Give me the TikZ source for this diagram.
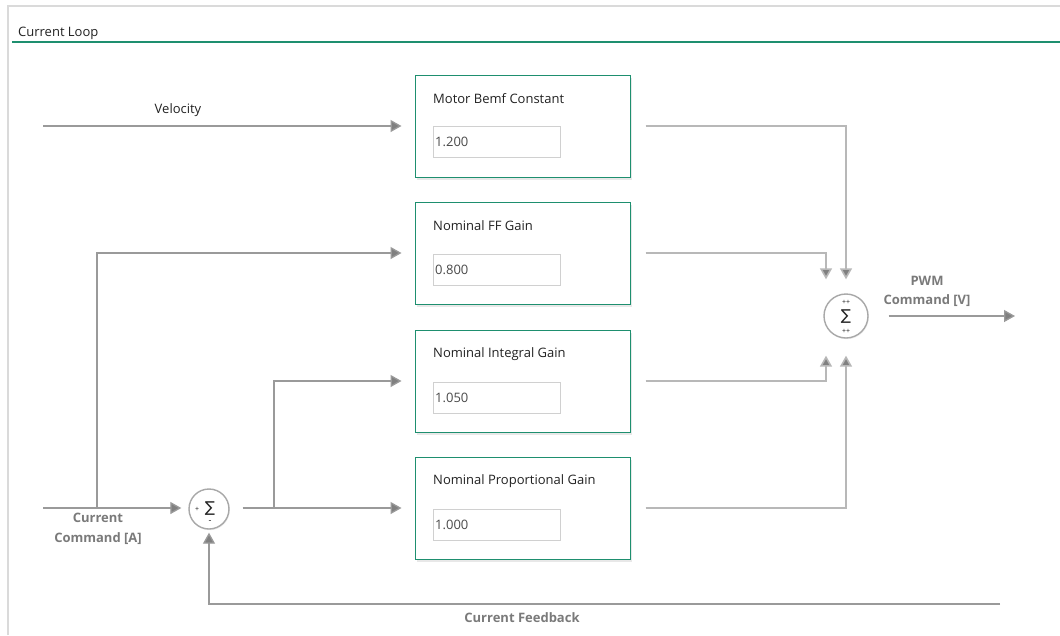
\documentclass[tikz,border=0pt]{standalone}
\usepackage{fontspec}
\setmainfont{Open Sans}
\newfontfamily\symfont{DejaVu Sans}
\usetikzlibrary{arrows.meta,shadows}
\definecolor{grn}{HTML}{1E8F6F}
\definecolor{panelgray}{HTML}{DADADA}
\definecolor{linegray}{HTML}{9A9A9A}
\definecolor{outgray}{HTML}{B8B8B8}
\definecolor{circgray}{HTML}{A8A8A8}
\definecolor{tipgray}{HTML}{808080}
\definecolor{labgray}{HTML}{7A7A7A}
\definecolor{fieldgray}{HTML}{D0D0D0}
\definecolor{txt}{HTML}{222222}
\definecolor{valtxt}{HTML}{4A4A4A}
\tikzset{
  blk/.style={draw=grn, line width=1pt, fill=white, minimum width=215pt, minimum height=102pt, inner sep=0pt,
    drop shadow={opacity=0.18, shadow xshift=1.5pt, shadow yshift=-2.5pt}},
  ttl/.style={anchor=west, inner sep=0pt, text=txt, font=\fontsize{13}{15}\selectfont},
  fld/.style={draw=fieldgray, line width=0.8pt, minimum width=127pt, minimum height=31pt, inner sep=0pt, anchor=north west},
  val/.style={anchor=west, inner sep=0pt, text=valtxt, font=\fontsize{13}{15}\selectfont},
  inl/.style={draw=linegray, line width=1.3pt, -{Triangle[width=12pt,length=11pt,fill=tipgray]}},
  outl/.style={draw=outgray, line width=1.6pt, -{Triangle[width=12pt,length=11pt,fill=tipgray]}},
  plain/.style={draw=linegray, line width=1.3pt},
  sumc/.style={circle, draw=circgray, line width=1.4pt, fill=white, inner sep=0pt,
    drop shadow={opacity=0.12, shadow xshift=0.8pt, shadow yshift=-1.2pt}},
  sig/.style={inner sep=0pt, text=txt, font=\symfont\fontsize{15}{15}\selectfont},
  sgn/.style={inner sep=0pt, text=txt, font=\fontsize{7}{7}\selectfont},
  blab/.style={text=labgray, font=\bfseries\fontsize{13}{19.5}\selectfont, align=center, inner sep=0pt},
  nlab/.style={text=txt, font=\fontsize{13}{15}\selectfont, inner sep=0pt},
}
\begin{document}
\begin{tikzpicture}[x=1pt,y=-1pt]
\useasboundingbox[fill=white] (0,0) rectangle (1060,635);
% panel
\draw[panelgray, line width=2pt] (8,635) -- (8,6) -- (1060,6);
\draw[grn, line width=1.5pt] (12,42) -- (1060,42);
\node[anchor=base west, inner sep=0pt, text=txt, font=\fontsize{13}{15}\selectfont] (title) at (18,36) {Current Loop};

% blocks
\node[blk] (b1) at (522.5,126) {};
\node[blk] (b2) at (522.5,253) {};
\node[blk] (b3) at (522.5,381) {};
\node[blk] (b4) at (522.5,508) {};

\node[ttl] (t1) at (433,99) {Motor Bemf Constant};
\node[ttl] (t2) at (433,226) {Nominal FF Gain};
\node[ttl] (t3) at (433,354) {Nominal Integral Gain};
\node[ttl] (t4) at (433,481) {Nominal Proportional Gain};

\node[fld] (f1) at (433,126) {};
\node[fld] (f2) at (433,254) {};
\node[fld] (f3) at (433,382) {};
\node[fld] (f4) at (433,509) {};
\node[val] (v1) at (435,141.5) {1.200};
\node[val] (v2) at (435,269.5) {0.800};
\node[val] (v3) at (435,397.5) {1.050};
\node[val] (v4) at (435,524.5) {1.000};

% summing junctions
\node[sumc, minimum size=40pt] (s1) at (209,509) {};
\node[sig] (s1sig) at (210,509) {∑};
\node[sgn] (s1p) at (197,509) {+};
\node[sgn, font=\fontsize{9}{9}\selectfont] (s1m) at (210,522) {-};

\node[sumc, minimum size=44pt] (s2) at (846,316) {};
\node[sig] (s2sig) at (846,316.5) {∑};
\node[sgn] (s2a) at (846,302) {++};
\node[sgn] (s2b) at (846,331.5) {++};

% coordinates
\coordinate (vin) at (43,126);
\coordinate (cin) at (43,508);
\coordinate (ffb) at (97,508);
\coordinate (ibr) at (274,508);
\coordinate (fbend) at (1000,604);
\coordinate (pwm) at (1015,316);

% inputs
\draw[inl] (vin) -- ([xshift=-13pt]b1.west);
\draw[plain] (cin) -- (ffb);
\draw[inl] (ffb) |- ([xshift=-13pt]b2.west);
\draw[inl] (cin) -- ([xshift=-7pt]s1.west |- cin);
\draw[inl] ([xshift=13pt]s1.east |- cin) -- ([xshift=-13pt]b4.west);
\draw[inl] (ibr) |- ([xshift=-13pt]b3.west);
\draw[inl] (fbend) -- (s1.south |- fbend) -- ([yshift=-3pt]s1.south);

% outputs
\draw[outl] ([xshift=15pt]b1.east) -| ([yshift=14pt]s2.north);
\draw[outl] ([xshift=15pt]b2.east) -| ([xshift=-20pt,yshift=14pt]s2.north);
\draw[outl] ([xshift=15pt]b3.east) -| ([xshift=-20pt,yshift=-17pt]s2.south);
\draw[outl] ([xshift=15pt]b4.east) -| ([yshift=-17pt]s2.south);
\draw[inl] ([xshift=20pt]s2.east) -- (pwm);

% labels
\node[nlab] (lv) at (178,110) {Velocity};
\node[blab] (lc) at (98,529) {Current\\Command [A]};
\node[blab] (lp) at (927,291.5) {PWM\\Command [V]};
\node[blab] (lf) at (522,618) {Current Feedback};
\end{tikzpicture}
\end{document}
